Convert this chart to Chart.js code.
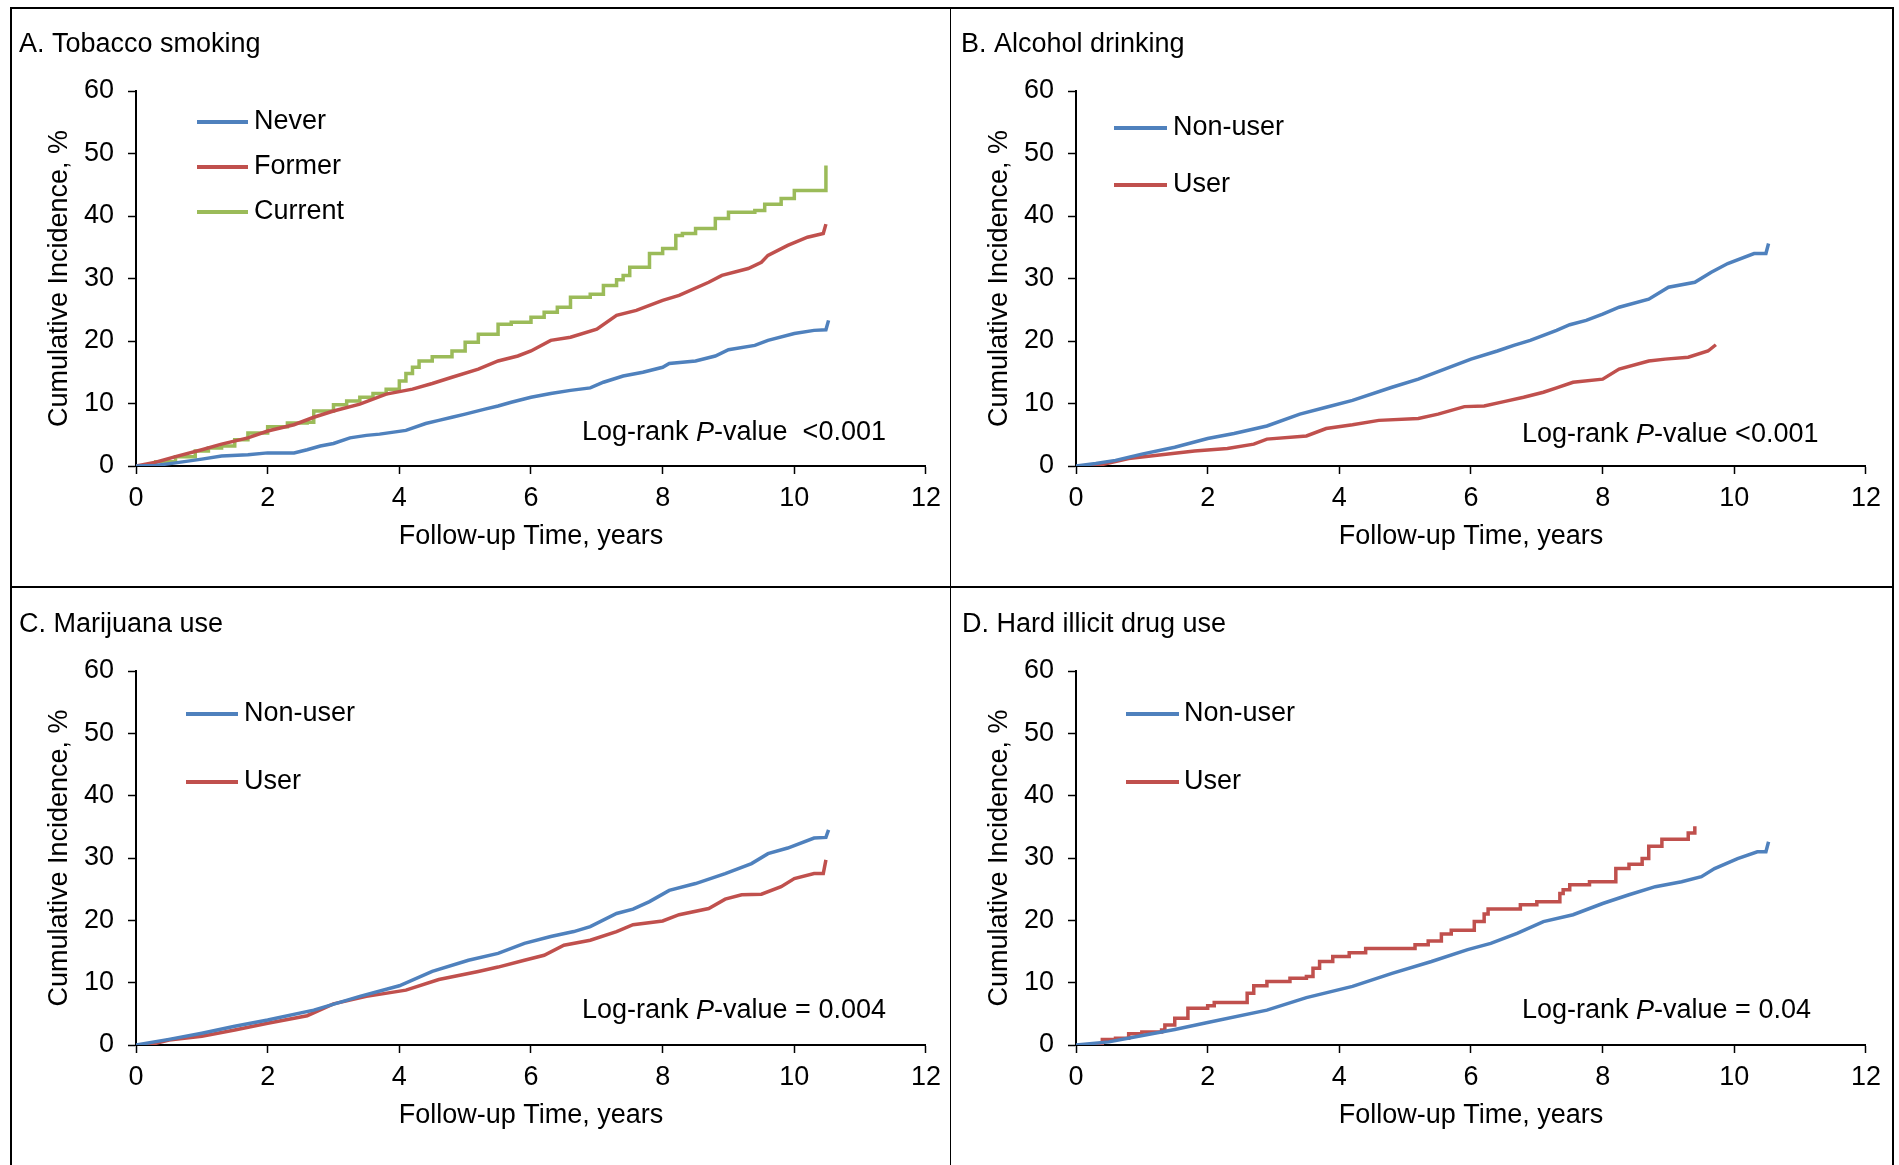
<!DOCTYPE html>
<html>
<head>
<meta charset="utf-8">
<script src="https://cdn.jsdelivr.net/npm/chart.js@4.4.1/dist/chart.umd.min.js"></script>
<style>
  html, body { margin: 0; padding: 0; background: #fff; }
  body { width: 1899px; height: 1165px; position: relative; overflow: hidden; }
  .cv { position: absolute; }
  .ln { position: absolute; background: #000; }
</style>
</head>
<body>
<div class="ln" style="left:10px;top:7px;width:1884px;height:1.5px"></div>
<div class="ln" style="left:10px;top:7px;width:1.5px;height:1160px"></div>
<div class="ln" style="left:1892px;top:7px;width:1.5px;height:1160px"></div>
<div class="ln" style="left:949.5px;top:7px;width:1.5px;height:1160px"></div>
<div class="ln" style="left:10px;top:586px;width:1884px;height:1.5px"></div>

<div class="cv" style="left:11px;top:9px;width:938px;height:577px"><canvas id="cA"></canvas></div>
<div class="cv" style="left:951px;top:9px;width:938px;height:577px"><canvas id="cB"></canvas></div>
<div class="cv" style="left:11px;top:589px;width:938px;height:576px"><canvas id="cC"></canvas></div>
<div class="cv" style="left:951px;top:589px;width:938px;height:576px"><canvas id="cD"></canvas></div>

<script>
// ---------------- Data ----------------
const xTicks = [0, 2, 4, 6, 8, 10, 12];
const yTicks = [0, 10, 20, 30, 40, 50, 60];

// A. Tobacco smoking
const neverT  = [0, 0.3, 0.6, 1.0, 1.3, 1.7, 2.0, 2.4, 2.6, 2.8, 3.0, 3.25, 3.5, 3.7, 4.1, 4.4, 4.6, 4.8, 5.0, 5.3, 5.5, 5.7, 6.0, 6.3, 6.6, 6.9, 7.1, 7.4, 7.7, 8.0, 8.1, 8.5, 8.8, 9.0, 9.4, 9.6, 10.0, 10.3, 10.48, 10.52];
const neverV  = [0, 0.1, 0.5, 1.1, 1.6, 1.8, 2.1, 2.1, 2.6, 3.2, 3.6, 4.5, 4.9, 5.1, 5.7, 6.8, 7.3, 7.8, 8.3, 9.1, 9.6, 10.2, 11.0, 11.6, 12.1, 12.5, 13.4, 14.4, 15.0, 15.8, 16.4, 16.8, 17.6, 18.6, 19.3, 20.1, 21.2, 21.7, 21.8, 23.3];
const formerT = [0, 0.3, 0.6, 1.0, 1.3, 1.7, 2.0, 2.4, 2.7, 3.0, 3.4, 3.8, 4.2, 4.5, 4.8, 5.2, 5.5, 5.8, 6.0, 6.3, 6.6, 7.0, 7.3, 7.6, 8.0, 8.25, 8.7, 8.9, 9.3, 9.5, 9.6, 9.9, 10.2, 10.44, 10.48];
const formerV = [0, 0.6, 1.5, 2.6, 3.5, 4.5, 5.6, 6.6, 7.8, 8.8, 9.9, 11.5, 12.3, 13.2, 14.2, 15.5, 16.8, 17.6, 18.4, 20.1, 20.6, 21.9, 24.1, 24.9, 26.5, 27.3, 29.4, 30.5, 31.6, 32.6, 33.7, 35.3, 36.6, 37.2, 38.7];
const currentT = [0, 0.3, 0.6, 0.9, 1.1, 1.3, 1.5, 1.7, 2.0, 2.3, 2.6, 2.7, 3.0, 3.2, 3.4, 3.6, 3.8, 4.0, 4.1, 4.2, 4.3, 4.5, 4.8, 5.0, 5.2, 5.5, 5.7, 6.0, 6.2, 6.4, 6.6, 6.9, 7.1, 7.3, 7.4, 7.5, 7.7, 7.8, 8.0, 8.2, 8.3, 8.5, 8.8, 9.0, 9.4, 9.55, 9.8, 10.0, 10.48];
const currentV = [0, 0.7, 1.5, 2.4, 2.9, 3.2, 4.2, 5.3, 6.3, 6.9, 7.0, 8.8, 9.8, 10.4, 11.0, 11.6, 12.3, 13.6, 14.8, 15.8, 16.8, 17.5, 18.4, 19.8, 21.1, 22.7, 23.0, 23.8, 24.6, 25.4, 27.0, 27.5, 28.9, 29.8, 30.5, 31.8, 31.8, 34.0, 34.8, 36.9, 37.2, 38.0, 39.6, 40.6, 40.9, 41.9, 42.8, 44.1, 48.1];

// B. Alcohol drinking
const alcNonT  = [0, 0.3, 0.6, 1.0, 1.5, 2.0, 2.4, 2.9, 3.4, 3.8, 4.2, 4.8, 5.2, 5.6, 6.0, 6.4, 6.65, 6.9, 7.3, 7.5, 7.75, 8.0, 8.25, 8.7, 9.0, 9.4, 9.65, 9.9, 10.3, 10.48, 10.52];
const alcNonV  = [0, 0.4, 0.9, 1.9, 3.0, 4.4, 5.2, 6.4, 8.3, 9.4, 10.5, 12.6, 13.9, 15.5, 17.1, 18.4, 19.3, 20.1, 21.7, 22.6, 23.3, 24.3, 25.4, 26.7, 28.6, 29.4, 31.0, 32.4, 34.0, 34.0, 35.6];
const alcUserT = [0.1, 0.3, 0.8, 1.3, 1.8, 2.3, 2.7, 2.9, 3.5, 3.8, 4.2, 4.6, 5.2, 5.5, 5.9, 6.2, 6.5, 6.8, 7.1, 7.3, 7.55, 8.0, 8.25, 8.7, 8.95, 9.3, 9.6, 9.72];
const alcUserV = [0, 0, 1.2, 1.8, 2.4, 2.8, 3.5, 4.3, 4.8, 6.0, 6.6, 7.3, 7.6, 8.3, 9.5, 9.6, 10.3, 11.0, 11.8, 12.5, 13.4, 13.9, 15.5, 16.8, 17.1, 17.4, 18.4, 19.4];

// C. Marijuana use
const marNonT  = [0, 0.5, 1.0, 1.5, 2.0, 2.7, 3.4, 4.0, 4.5, 5.05, 5.5, 5.9, 6.3, 6.65, 6.9, 7.3, 7.55, 7.8, 8.1, 8.5, 8.95, 9.35, 9.6, 9.9, 10.3, 10.48, 10.52];
const marNonV  = [0, 0.9, 1.9, 3.0, 4.0, 5.6, 7.8, 9.5, 11.8, 13.6, 14.7, 16.3, 17.4, 18.2, 19.0, 21.1, 21.8, 23.0, 24.8, 25.9, 27.5, 29.1, 30.7, 31.6, 33.2, 33.3, 34.5];
const marUserT = [0.1, 0.2, 0.5, 1.0, 1.5, 2.0, 2.6, 3.0, 3.5, 4.1, 4.6, 5.2, 5.5, 5.9, 6.2, 6.5, 6.9, 7.3, 7.55, 8.0, 8.25, 8.7, 8.95, 9.2, 9.5, 9.8, 10.0, 10.3, 10.44, 10.48];
const marUserV = [0, 0, 0.8, 1.4, 2.4, 3.5, 4.7, 6.6, 7.8, 8.8, 10.5, 11.8, 12.5, 13.6, 14.4, 16.0, 16.8, 18.2, 19.3, 19.9, 20.9, 21.9, 23.4, 24.1, 24.2, 25.4, 26.7, 27.5, 27.5, 29.7];

// D. Hard illicit drug use
const drugNonT  = [0, 0.5, 0.95, 1.5, 2.0, 2.9, 3.5, 4.2, 4.8, 5.4, 5.95, 6.3, 6.7, 7.1, 7.55, 8.0, 8.4, 8.8, 9.2, 9.5, 9.7, 10.05, 10.35, 10.48, 10.52];
const drugNonV  = [0, 0.5, 1.4, 2.5, 3.6, 5.6, 7.6, 9.4, 11.5, 13.4, 15.3, 16.3, 17.9, 19.8, 20.9, 22.7, 24.1, 25.4, 26.2, 27.0, 28.3, 29.9, 31.0, 31.0, 32.6];
const drugUserT = [0.15, 0.4, 0.6, 0.8, 1.0, 1.3, 1.35, 1.5, 1.7, 2.0, 2.1, 2.6, 2.7, 2.9, 3.25, 3.5, 3.6, 3.7, 3.9, 4.15, 4.4, 5.15, 5.35, 5.55, 5.7, 6.05, 6.2, 6.26, 6.75, 7.0, 7.35, 7.4, 7.5, 7.8, 8.2, 8.4, 8.6, 8.7, 8.9, 9.3, 9.4];
const drugUserV = [0, 0.9, 1.1, 1.8, 2.1, 2.4, 3.2, 4.3, 5.9, 6.3, 6.8, 8.3, 9.5, 10.2, 10.7, 11.0, 12.3, 13.4, 14.2, 14.8, 15.5, 16.1, 16.7, 17.8, 18.4, 19.8, 21.0, 21.8, 22.5, 23.0, 24.3, 24.9, 25.7, 26.2, 28.3, 29.0, 29.9, 31.9, 33.0, 34.0, 35.1];

// ---------------- Styling ----------------
const BLUE = '#4F81BD', RED = '#C0504D', GREEN = '#9BBB59';
const FAMILY = "'Liberation Sans', Arial, Helvetica, sans-serif";
const FS = 27;

function pts(t, v) { return t.map((x, i) => ({ x: x, y: v[i] })); }
function ds(label, t, v, color, stepped) {
  return { label, data: pts(t, v), borderColor: color, backgroundColor: color,
           borderWidth: 3.5, pointRadius: 0, tension: 0, stepped: stepped ? 'before' : false, fill: false };
}

const decor = {
  id: 'decor',
  afterDraw(chart, args, o) {
    const { ctx, chartArea: a } = chart;
    ctx.save();
    ctx.fillStyle = '#000';
    ctx.font = FS + 'px ' + FAMILY;
    ctx.textBaseline = 'middle';
    ctx.textAlign = 'left';
    ctx.fillText(o.title, o.titleX, o.titleY);
    chart.data.datasets.forEach((d, i) => {
      const y = a.top + o.legRows[i];
      ctx.strokeStyle = d.borderColor;
      ctx.lineWidth = 4;
      ctx.beginPath();
      ctx.moveTo(a.left + o.legX0, y);
      ctx.lineTo(a.left + o.legX1, y);
      ctx.stroke();
      ctx.fillText(d.label, a.left + o.legTX, y);
    });
    // p-value annotation
    let x = a.left + o.pX; const y = a.top + o.pY;
    const parts = [['Log-rank ', false], ['P', true], [o.pText, false]];
    parts.forEach(([s, it]) => {
      ctx.font = (it ? 'italic ' : '') + FS + 'px ' + FAMILY;
      ctx.fillText(s, x, y);
      x += ctx.measureText(s).width;
    });
    ctx.restore();
  }
};

function makeChart(id, datasets, deco) {
  new Chart(document.getElementById(id), {
    type: 'line',
    data: { datasets },
    plugins: [decor],
    options: {
      responsive: true, maintainAspectRatio: false, animation: false,
      layout: { padding: { top: 82, right: 22, left: 0, bottom: 0 } },
      plugins: { legend: { display: false }, tooltip: { enabled: false }, title: { display: false }, decor: deco },
      scales: {
        x: {
          type: 'linear', min: 0, max: 12,
          afterBuildTicks: s => { s.ticks = xTicks.map(v => ({ value: v })); },
          afterFit: s => { s.height = 120; },
          border: { color: '#000', width: 2 },
          grid: { drawOnChartArea: false, drawTicks: true, tickLength: 8, tickColor: '#000', tickWidth: 1.5 },
          ticks: { color: '#000', font: { family: FAMILY, size: FS }, padding: 8, maxRotation: 0 },
          title: { display: true, text: 'Follow-up Time, years', color: '#000', font: { family: FAMILY, size: FS }, padding: { top: 0, bottom: 33 } }
        },
        y: {
          type: 'linear', min: 0, max: 60,
          afterBuildTicks: s => { s.ticks = yTicks.map(v => ({ value: v })); },
          afterFit: s => { s.width = 125; },
          border: { color: '#000', width: 2 },
          grid: { drawOnChartArea: false, drawTicks: true, tickLength: 8, tickColor: '#000', tickWidth: 1.5 },
          ticks: { color: '#000', font: { family: FAMILY, size: FS }, padding: 14 },
          title: { display: true, text: 'Cumulative Incidence, %', color: '#000', font: { family: FAMILY, size: FS }, padding: { top: 32, bottom: 0 } }
        }
      }
    }
  });
}

makeChart('cA', [
  ds('Never', neverT, neverV, BLUE, false),
  ds('Former', formerT, formerV, RED, false),
  ds('Current', currentT, currentV, GREEN, true)
], { title: 'A. Tobacco smoking', titleX: 8, titleY: 36, legRows: [31, 76, 121], legX0: 61, legX1: 112, legTX: 118, pX: 446, pY: 342, pText: '-value  <0.001' });

makeChart('cB', [
  ds('Non-user', alcNonT, alcNonV, BLUE, false),
  ds('User', alcUserT, alcUserV, RED, false)
], { title: 'B. Alcohol drinking', titleX: 10, titleY: 36, legRows: [37, 94], legX0: 38, legX1: 91, legTX: 97, pX: 446, pY: 344, pText: '-value <0.001' });

makeChart('cC', [
  ds('Non-user', marNonT, marNonV, BLUE, false),
  ds('User', marUserT, marUserV, RED, false)
], { title: 'C. Marijuana use', titleX: 8, titleY: 36, legRows: [43, 111], legX0: 50, legX1: 102, legTX: 108, pX: 446, pY: 340, pText: '-value = 0.004' });

makeChart('cD', [
  ds('Non-user', drugNonT, drugNonV, BLUE, false),
  ds('User', drugUserT, drugUserV, RED, true)
], { title: 'D. Hard illicit drug use', titleX: 11, titleY: 36, legRows: [43, 111], legX0: 50, legX1: 103, legTX: 108, pX: 446, pY: 340, pText: '-value = 0.04' });
</script>
</body>
</html>
